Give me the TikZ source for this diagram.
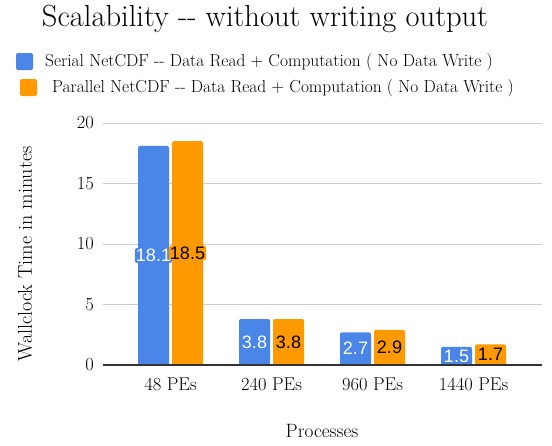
\documentclass[tikz,border=0pt]{standalone}
\usepackage{fontspec}
\newfontfamily\valfont{Liberation Sans}
\definecolor{serblue}{HTML}{4A86E8}
\definecolor{parorange}{HTML}{FF9900}
\definecolor{gridgray}{HTML}{CCCCCC}
\definecolor{axisgray}{HTML}{333333}
\tikzset{
  barstyle/.style={rounded corners=2pt},
  vallabel/.style={font=\valfont\fontsize{18}{20}\selectfont, inner sep=1pt, rounded corners=1.5pt},
  catlabel/.style={font=\rmfamily\fontsize{18.5}{21}\selectfont, anchor=base},
  ticklabel/.style={font=\rmfamily\fontsize{18.5}{21}\selectfont, anchor=east, inner sep=0pt},
  legendtext/.style={font=\rmfamily\fontsize{17.4}{20}\selectfont, anchor=west, inner sep=0pt},
  legendkey/.style={rounded corners=2pt, minimum size=17pt, inner sep=0pt},
}
\begin{document}
\begin{tikzpicture}[x=1pt,y=-1pt]
\useasboundingbox[fill=white] (0,0) rectangle (552,445);

% title
\node[font=\rmfamily\fontsize{30.5}{34}\selectfont] (title) at (265,19) {Scalability -{}- without writing output};

% legend
\node[legendkey, fill=serblue] (keyser) at (24.5,61.5) {};
\node[legendtext] (txtser) at (45,62) {Serial NetCDF -{}- Data Read + Computation ( No Data Write )};
\node[legendkey, fill=parorange] (keypar) at (28.5,87.5) {};
\node[legendtext] (txtpar) at (52,88) {Parallel NetCDF -{}- Data Read + Computation ( No Data Write )};

% grid lines and y ticks
\foreach \v in {5,10,15,20} {
  \draw[gridgray, line width=1pt] (103,{365-12.1*\v}) -- (542,{365-12.1*\v});
}
\foreach \v in {0,5,10,15,20} {
  \node[ticklabel] (tick\v) at (94,{365-12.1*\v}) {\v};
}

% bars
\foreach \c/\s/\p in {170.5/18.1/18.5, 271.5/3.8/3.8, 372.5/2.7/2.9, 473.5/1.5/1.7} {
  \fill[serblue, barstyle] ({\c-32.5},365) |- ({\c-1.5},{365-12.1*\s}) -- ({\c-1.5},365) -- cycle;
  \fill[parorange, barstyle] ({\c+1.5},365) |- ({\c+32.5},{365-12.1*\p}) -- ({\c+32.5},365) -- cycle;
}

% x axis
\draw[axisgray, line width=1.3pt] (103,365) -- (542,365);

% value labels
\foreach \n/\c/\s in {a/170.5/18.1, b/271.5/3.8, c/372.5/2.7, d/473.5/1.5} {
  \node[vallabel, fill=serblue, text=white] (vs\n) at ({\c-17},{365-6.05*\s}) {\s};
}
\foreach \n/\c/\p in {a/170.5/18.5, b/271.5/3.8, c/372.5/2.9, d/473.5/1.7} {
  \node[vallabel, fill=parorange, text=black] (vp\n) at ({\c+17},{365-6.05*\p}) {\p};
}

% category labels
\foreach \n/\c/\t in {a/170.5/48 PEs, b/271.5/240 PEs, c/372.5/960 PEs, d/473.5/1440 PEs} {
  \node[catlabel] (cat\n) at (\c,390) {\t};
}

% axis titles
\node[font=\rmfamily\fontsize{19.3}{22}\selectfont] (xtitle) at (322,431) {Processes};
\node[font=\rmfamily\fontsize{20}{22}\selectfont, rotate=90] (ytitle) at (25,254) {Wallclock Time in minutes};
\end{tikzpicture}
\end{document}
